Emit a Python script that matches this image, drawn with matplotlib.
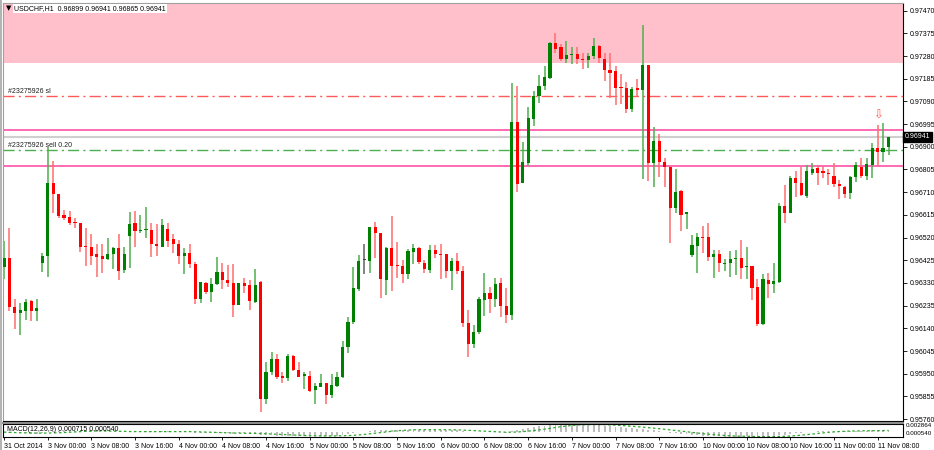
import numpy as np
import pandas as pd
import matplotlib
matplotlib.use('Agg')
import matplotlib.pyplot as plt
import matplotlib.transforms as mtrans

# ---------------- data (USDCHF, H1) ----------------
opens = [0.96398, 0.96433, 0.96230, 0.96205, 0.96214, 0.96254, 0.96214, 0.96415, 0.96443, 0.96747,
         0.96701, 0.96614, 0.96605, 0.96586, 0.96580, 0.96485, 0.96482, 0.96451, 0.96443, 0.96430,
         0.96451, 0.96475, 0.96384, 0.96526, 0.96580, 0.96547, 0.96551, 0.96551, 0.96495, 0.96482,
         0.96556, 0.96513, 0.96493, 0.96444, 0.96457, 0.96409, 0.96263, 0.96328, 0.96293, 0.96324,
         0.96377, 0.96342, 0.96328, 0.96238, 0.96328, 0.96321, 0.96250, 0.96335, 0.95844, 0.95958,
         0.96011, 0.95940, 0.95933, 0.96025, 0.95965, 0.95939, 0.95942, 0.95882, 0.95895, 0.95910,
         0.95861, 0.95900, 0.95935, 0.96063, 0.96168, 0.96303, 0.96424, 0.96423, 0.96563, 0.96538,
         0.96342, 0.96475, 0.96405, 0.96402, 0.96366, 0.96461, 0.96477, 0.96415, 0.96384, 0.96468,
         0.96451, 0.96451, 0.96381, 0.96422, 0.96381, 0.96163, 0.96074, 0.96126, 0.96258, 0.96289,
         0.96261, 0.96328, 0.96235, 0.96196, 0.97003, 0.96747, 0.96833, 0.97016, 0.97113, 0.97156,
         0.97189, 0.97334, 0.97319, 0.97267, 0.97285, 0.97289, 0.97268, 0.97264, 0.97282, 0.97323,
         0.97268, 0.97222, 0.97217, 0.97148, 0.97145, 0.97058, 0.97145, 0.97138, 0.97243, 0.96833,
         0.96924, 0.96835, 0.96817, 0.96642, 0.96715, 0.96617, 0.96447, 0.96486, 0.96524, 0.96521,
         0.96437, 0.96450, 0.96409, 0.96415, 0.96430, 0.96433, 0.96397, 0.96401, 0.96314, 0.96158,
         0.96342, 0.96324, 0.96333, 0.96652, 0.96622, 0.96771, 0.96747, 0.96694, 0.96792, 0.96810,
         0.96799, 0.96792, 0.96778, 0.96744, 0.96730, 0.96708, 0.96775, 0.96817, 0.96778, 0.96824,
         0.96894, 0.96880, 0.96899]
highs = [0.96507, 0.96561, 0.96261, 0.96245, 0.96261, 0.96258, 0.96263, 0.96454, 0.96899, 0.96842,
         0.96701, 0.96635, 0.96632, 0.96600, 0.96582, 0.96559, 0.96534, 0.96495, 0.96493, 0.96517,
         0.96482, 0.96535, 0.96479, 0.96628, 0.96632, 0.96614, 0.96646, 0.96580, 0.96577, 0.96596,
         0.96580, 0.96534, 0.96510, 0.96475, 0.96493, 0.96416, 0.96335, 0.96335, 0.96352, 0.96440,
         0.96412, 0.96405, 0.96408, 0.96331, 0.96352, 0.96342, 0.96387, 0.96338, 0.96000, 0.96039,
         0.96032, 0.95958, 0.96032, 0.96028, 0.95998, 0.95958, 0.95961, 0.95912, 0.95949, 0.95912,
         0.95949, 0.95958, 0.96087, 0.96187, 0.96395, 0.96447, 0.96493, 0.96563, 0.96586, 0.96538,
         0.96482, 0.96610, 0.96503, 0.96426, 0.96471, 0.96493, 0.96482, 0.96426, 0.96489, 0.96489,
         0.96493, 0.96451, 0.96433, 0.96454, 0.96401, 0.96217, 0.96154, 0.96272, 0.96373, 0.96314,
         0.96349, 0.96349, 0.96307, 0.97168, 0.97156, 0.96921, 0.97065, 0.97135, 0.97201, 0.97238,
         0.97340, 0.97378, 0.97331, 0.97344, 0.97319, 0.97317, 0.97292, 0.97294, 0.97354, 0.97326,
         0.97294, 0.97292, 0.97238, 0.97205, 0.97173, 0.97152, 0.97183, 0.97410, 0.97243, 0.96982,
         0.96952, 0.96852, 0.96820, 0.96806, 0.96719, 0.96626, 0.96531, 0.96538, 0.96568, 0.96580,
         0.96468, 0.96468, 0.96429, 0.96465, 0.96468, 0.96510, 0.96479, 0.96401, 0.96345, 0.96367,
         0.96370, 0.96412, 0.96663, 0.96740, 0.96778, 0.96799, 0.96817, 0.96824, 0.96833, 0.96824,
         0.96814, 0.96806, 0.96833, 0.96761, 0.96736, 0.96778, 0.96838, 0.96852, 0.96852, 0.96915,
         0.96991, 0.96998, 0.96941]
lows = [0.96345, 0.96212, 0.96136, 0.96112, 0.96175, 0.96170, 0.96172, 0.96377, 0.96354, 0.96622,
        0.96601, 0.96594, 0.96573, 0.96559, 0.96461, 0.96402, 0.96405, 0.96356, 0.96373, 0.96426,
        0.96387, 0.96342, 0.96370, 0.96391, 0.96479, 0.96538, 0.96520, 0.96440, 0.96443, 0.96482,
        0.96482, 0.96454, 0.96408, 0.96367, 0.96391, 0.96242, 0.96245, 0.96282, 0.96251, 0.96321,
        0.96305, 0.96312, 0.96189, 0.96236, 0.96289, 0.96217, 0.96247, 0.95791, 0.95822, 0.95944,
        0.95928, 0.95910, 0.95921, 0.95962, 0.95935, 0.95884, 0.95874, 0.95823, 0.95893, 0.95823,
        0.95849, 0.95893, 0.95932, 0.96038, 0.96158, 0.96297, 0.96367, 0.96370, 0.96433, 0.96266,
        0.96279, 0.96297, 0.96349, 0.96331, 0.96345, 0.96409, 0.96409, 0.96373, 0.96370, 0.96433,
        0.96346, 0.96349, 0.96300, 0.96367, 0.96147, 0.96021, 0.96056, 0.96116, 0.96191, 0.96203,
        0.96228, 0.96186, 0.96162, 0.96175, 0.96712, 0.96747, 0.96820, 0.96987, 0.97082, 0.97138,
        0.97183, 0.97294, 0.97261, 0.97252, 0.97247, 0.97247, 0.97225, 0.97229, 0.97267, 0.97252,
        0.97176, 0.97103, 0.97075, 0.97079, 0.97040, 0.97047, 0.97113, 0.96764, 0.96758, 0.96730,
        0.96772, 0.96733, 0.96498, 0.96622, 0.96548, 0.96554, 0.96437, 0.96370, 0.96454, 0.96423,
        0.96349, 0.96377, 0.96381, 0.96356, 0.96363, 0.96345, 0.96345, 0.96258, 0.96150, 0.96154,
        0.96268, 0.96289, 0.96328, 0.96580, 0.96622, 0.96691, 0.96694, 0.96685, 0.96782, 0.96740,
        0.96768, 0.96740, 0.96733, 0.96680, 0.96685, 0.96680, 0.96754, 0.96768, 0.96761, 0.96768,
        0.96820, 0.96838, 0.96865]
closes = [0.96433, 0.96228, 0.96203, 0.96217, 0.96251, 0.96214, 0.96226, 0.96443, 0.96747, 0.96701,
          0.96612, 0.96603, 0.96582, 0.96580, 0.96482, 0.96482, 0.96444, 0.96440, 0.96430, 0.96450,
          0.96475, 0.96381, 0.96451, 0.96577, 0.96547, 0.96551, 0.96554, 0.96493, 0.96485, 0.96573,
          0.96507, 0.96492, 0.96444, 0.96457, 0.96409, 0.96263, 0.96333, 0.96293, 0.96325, 0.96377,
          0.96342, 0.96331, 0.96238, 0.96328, 0.96317, 0.96254, 0.96321, 0.95844, 0.95958, 0.96011,
          0.95937, 0.95933, 0.96024, 0.95965, 0.95937, 0.95947, 0.95879, 0.95898, 0.95910, 0.95861,
          0.95903, 0.95937, 0.96063, 0.96168, 0.96310, 0.96423, 0.96424, 0.96563, 0.96538, 0.96345,
          0.96477, 0.96402, 0.96402, 0.96366, 0.96464, 0.96477, 0.96416, 0.96388, 0.96468, 0.96450,
          0.96446, 0.96381, 0.96422, 0.96381, 0.96163, 0.96073, 0.96126, 0.96261, 0.96287, 0.96261,
          0.96325, 0.96233, 0.96196, 0.97005, 0.96743, 0.96838, 0.97019, 0.97113, 0.97156, 0.97191,
          0.97334, 0.97308, 0.97267, 0.97285, 0.97289, 0.97267, 0.97264, 0.97282, 0.97323, 0.97271,
          0.97222, 0.97210, 0.97148, 0.97145, 0.97058, 0.97142, 0.97138, 0.97243, 0.96831, 0.96924,
          0.96838, 0.96817, 0.96642, 0.96712, 0.96614, 0.96626, 0.96489, 0.96521, 0.96519, 0.96437,
          0.96450, 0.96412, 0.96413, 0.96430, 0.96434, 0.96394, 0.96401, 0.96310, 0.96158, 0.96346,
          0.96324, 0.96338, 0.96652, 0.96622, 0.96771, 0.96750, 0.96698, 0.96799, 0.96807, 0.96792,
          0.96792, 0.96786, 0.96744, 0.96736, 0.96701, 0.96775, 0.96824, 0.96778, 0.96828, 0.96894,
          0.96880, 0.96894, 0.96941]

time_labels = ["31 Oct 2014", "3 Nov 00:00", "3 Nov 08:00", "3 Nov 16:00", "4 Nov 00:00",
               "4 Nov 08:00", "4 Nov 16:00", "5 Nov 00:00", "5 Nov 08:00", "5 Nov 16:00",
               "6 Nov 00:00", "6 Nov 08:00", "6 Nov 16:00", "7 Nov 00:00", "7 Nov 08:00",
               "7 Nov 16:00", "10 Nov 00:00", "10 Nov 08:00", "10 Nov 16:00", "11 Nov 00:00",
               "11 Nov 08:00"]
label_bars = [0, 8, 16, 24, 32, 40, 48, 56, 64, 72, 80, 88, 96, 104, 112, 120, 128, 136, 144, 152, 160]

price_ticks = [0.97470, 0.97375, 0.97280, 0.97185, 0.97090, 0.96995, 0.96900, 0.96805, 0.96710,
               0.96615, 0.96520, 0.96425, 0.96330, 0.96235, 0.96140, 0.96045, 0.95950, 0.95855,
               0.95760]

zone_low = 0.97250          # pink zone lower edge
sl_price = 0.97113          # order stop-loss
order_price = 0.96888       # sell order
band_upper = 0.96969
band_lower = 0.96821
last_price = 0.96941
arrow_bar = 160
arrow_price = 0.97033

title_text = "USDCHF,H1  0.96899 0.96941 0.96865 0.96941"
macd_text = "MACD(12,26,9) 0.000715 0.000540"

# ---------------- figure ----------------
FONT = 'Liberation Sans'
W, H = 934, 450
fig = plt.figure(figsize=(W / 100, H / 100), dpi=100)
fig.patch.set_facecolor('white')

ax = fig.add_axes([3 / W, 29 / H, 900 / W, 418 / H])
ax.set_xlim(-0.18, 164.65)
ax.set_ylim(0.95752, 0.97502)

# pink zone
ax.axhspan(zone_low, 1.0, color='#ffc0cb', lw=0, zorder=0)

# horizontal lines
ax.axhline(sl_price, color='#ff5a5a', lw=1.0, ls=(0, (8, 3, 1.5, 3)), zorder=1)
ax.axhline(order_price, color='#4caf50', lw=1.0, ls=(0, (8, 3, 1.5, 3)), zorder=1)
ax.axhline(band_upper, color='#ff5fae', lw=1.3, zorder=1)
ax.axhline(band_lower, color='#ff5fae', lw=1.3, zorder=1)
ax.axhline(last_price, color='#cfcfcf', lw=1.5, zorder=1)

# candles
n = len(closes)
idx = np.arange(n)
o = np.array(opens); h = np.array(highs); l = np.array(lows); c = np.array(closes)
up = c > o
dn = c < o
px = 0.0171 / 408.3  # price per pixel
body_col = np.where(up, '#008000', np.where(dn, '#ff0000', '#404040'))
wick_col = np.where(up, '#4fae4f', np.where(dn, '#ff6e6e', '#606060'))
ax.vlines(idx, l, h, colors=list(wick_col), lw=1.1, zorder=2)
bottoms = np.minimum(o, c)
heights = np.maximum(np.abs(c - o), px * 1.0)
ax.bar(idx, heights, bottom=bottoms, width=0.58, color=list(body_col), lw=0, zorder=3)

# texts on chart
yx = ax.get_yaxis_transform()
ax.annotate('#23275926 sl', xy=(0.005, sl_price), xycoords=yx, xytext=(0, 0.8),
            textcoords='offset points', fontsize=5, family=FONT, va='bottom', color='#202020')
ax.annotate('#23275926 sell 0.20', xy=(0.005, order_price), xycoords=yx, xytext=(0, 0.8),
            textcoords='offset points', fontsize=5, family=FONT, va='bottom', color='#202020')
ax.text(arrow_bar, arrow_price, '\u21e9', color='#ff5a5a', fontsize=8.5, ha='center', va='center',
        family='DejaVu Sans', zorder=4)

# right price axis
ax.yaxis.tick_right()
ax.set_yticks(price_ticks)
ax.set_yticklabels([f'{p:.5f}' for p in price_ticks], fontsize=5, family=FONT)
ax.tick_params(axis='y', length=3, width=0.6, pad=1.5, colors='black')
ax.set_xticks([])
for s in ax.spines.values():
    s.set_color('black'); s.set_linewidth(0.8)
ax.spines['top'].set_color('#a0a0a0')
ax.spines['left'].set_color('#a0a0a0')

# current price box
tr = mtrans.blended_transform_factory(ax.transAxes, ax.transData)
ax.text(1.0015, last_price, f'{last_price:.5f}', transform=tr, fontsize=5, family=FONT,
        color='white', va='center', ha='left',
        bbox=dict(boxstyle='square,pad=0.25', fc='black', ec='black'), zorder=6, clip_on=False)

# title
fig.text(6 / W, 1 - 8.5 / H, '\u25bc', fontsize=5, family='DejaVu Sans', va='center', ha='left')
fig.text(14 / W, 1 - 8.5 / H, title_text, fontsize=5, family=FONT, va='center', ha='left',
         bbox=dict(boxstyle='square,pad=0.15', fc='white', ec='none'))

# separator bar and window border
fig.add_artist(plt.Line2D([3 / W, 903 / W], [1 - 422.5 / H, 1 - 422.5 / H], color='#8c8c8c', lw=1.5))
fig.add_artist(plt.Rectangle((0, 0), 2 / W, 1, color='#b4b4b4', lw=0))

# ---------------- MACD panel ----------------
am = fig.add_axes([3 / W, 13 / H, 900 / W, 13.5 / H])
cs = pd.Series(closes)
ema12 = cs.ewm(span=12, adjust=False).mean()
ema26 = cs.ewm(span=26, adjust=False).mean()
macd = (ema12 - ema26).values
signal = pd.Series(macd).rolling(9, min_periods=1).mean().values
am.bar(idx, macd, width=0.35, color='#bdbdbd', lw=0)
am.plot(idx, signal, color='#2ca82c', ls=(0, (2, 2)), lw=0.9)
lo = min(macd.min(), signal.min()); hi = max(macd.max(), signal.max())
am.set_xlim(ax.get_xlim())
am.set_ylim(lo, hi + (hi - lo) * 0.05)
am.set_yticks([])
am.text(0.004, 0.55, macd_text, transform=am.transAxes, fontsize=5, family=FONT, va='center')
am.text(1.003, 0.85, '0.002864', transform=am.transAxes, fontsize=4.5, family=FONT, va='center')
am.text(1.003, 0.25, '0.000540', transform=am.transAxes, fontsize=4.5, family=FONT, va='center')
for s in am.spines.values():
    s.set_color('black'); s.set_linewidth(0.8)
am.set_xticks(label_bars)
am.set_xticklabels(time_labels, fontsize=5, family=FONT, ha='left')
am.tick_params(axis='x', length=2.5, width=0.6, pad=2)

fig.savefig('out.png', dpi=100, facecolor='white')
